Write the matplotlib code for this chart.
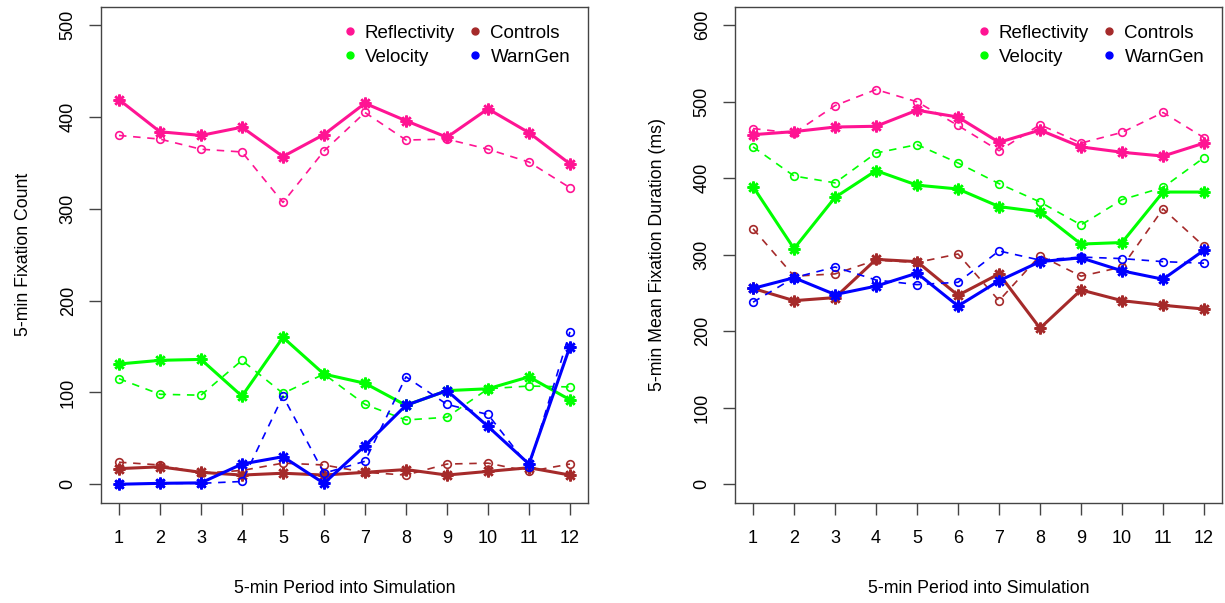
import matplotlib
matplotlib.use("Agg")
import matplotlib.pyplot as plt
import numpy as np

plt.rcParams['font.family'] = ['Liberation Sans', 'DejaVu Sans']

periods = list(range(1, 13))
series_names = ["Reflectivity", "Velocity", "Controls", "WarnGen"]
colors = {"Reflectivity": "#FF1493", "Velocity": "#00FF00",
          "Controls": "#A52A2A", "WarnGen": "#0000FF"}

# Left panel: 5-min fixation count (solid = series A, dashed = series B)
count_solid = {
    "Reflectivity": [419, 384, 380, 389, 357, 381, 415, 396, 378, 409, 383, 349],
    "Velocity":     [131, 135, 136, 96, 160, 120, 110, 86, 102, 104, 117, 92],
    "Controls":     [17, 19, 13, 10, 12, 10, 13, 16, 10, 14, 18, 10],
    "WarnGen":      [0, 1, 1.5, 22, 30, 1, 42, 86, 102, 63, 22, 150],
}
count_dashed = {
    "Reflectivity": [380, 376, 365, 362, 307, 363, 405, 375, 376, 365, 351, 323],
    "Velocity":     [115, 98, 97, 135, 99, 120, 87, 70, 73, 104, 107, 106],
    "Controls":     [24, 21, 12, 15, 23, 21, 13, 10, 22, 23, 14, 22],
    "WarnGen":      [0, 1, 1, 3, 96, 12, 25, 117, 87, 76, 19, 166],
}

# Right panel: 5-min mean fixation duration (ms)
dur_solid = {
    "Reflectivity": [457, 461, 467, 468, 489, 480, 447, 463, 441, 434, 429, 446],
    "Velocity":     [389, 308, 375, 410, 391, 386, 363, 356, 314, 316, 382, 382],
    "Controls":     [256, 240, 244, 294, 291, 247, 275, 204, 254, 240, 234, 229],
    "WarnGen":      [256, 270, 248, 259, 276, 233, 266, 291, 296, 279, 268, 306],
}
dur_dashed = {
    "Reflectivity": [465, 459, 495, 516, 500, 469, 436, 470, 446, 460, 486, 453],
    "Velocity":     [441, 403, 394, 433, 444, 420, 393, 369, 339, 372, 388, 427],
    "Controls":     [334, 272, 275, 293, 290, 301, 240, 299, 272, 284, 360, 311],
    "WarnGen":      [238, 270, 284, 267, 261, 264, 305, 293, 297, 295, 291, 289],
}

left_yticks = [0, 100, 200, 300, 400, 500]
right_yticks = [0, 100, 200, 300, 400, 500, 600]
xlabel = "5-min Period into Simulation"
left_ylabel = "5-min Fixation Count"
right_ylabel = "5-min Mean Fixation Duration (ms)"

fig = plt.figure(figsize=(12.25, 6.03), dpi=100)
ax1 = fig.add_axes([0.0824, 0.1665, 0.3976, 0.8220])
ax2 = fig.add_axes([0.6000, 0.1665, 0.3976, 0.8220])

star = (8, 2, 0)

def draw(ax, solid, dashed, yticks, ylabel):
    for name in series_names:
        c = colors[name]
        ax.plot(periods, dashed[name], color=c, lw=1.2, ls=(0, (4.5, 4)),
                marker='o', ms=5.5, mfc='none', mec=c, mew=1.2)
        ax.plot(periods, solid[name], color=c, lw=2.2, ls='-',
                marker=star, ms=8.5, mec=c, mew=1.8)
    ymax = yticks[-1]
    ax.set_ylim(-0.04 * ymax, 1.04 * ymax)
    ax.set_xlim(1 - 0.04 * 11, 12 + 0.04 * 11)
    ax.set_xticks(periods)
    ax.set_yticks(yticks)
    ax.set_yticklabels([str(t) for t in yticks], rotation=90, va='center')
    ax.tick_params(axis='both', direction='out', length=8.5, width=1.0,
                   color='#444444', labelsize=13)
    ax.tick_params(axis='x', pad=11)
    ax.tick_params(axis='y', pad=9)
    for s in ax.spines.values():
        s.set_color('#444444')
        s.set_linewidth(1.0)
    ax.set_xlabel(xlabel, fontsize=12.8, labelpad=24)
    ax.set_ylabel(ylabel, fontsize=12.8, labelpad=20)
    handles = [plt.Line2D([], [], ls='none', marker='o', ms=5, color=colors[n])
               for n in series_names]
    ax.legend(handles, series_names, ncol=2, loc='upper right', frameon=False,
              fontsize=13.5, handletextpad=0.3, columnspacing=0.6,
              handlelength=1.0, labelspacing=0.35, borderaxespad=0.55)

draw(ax1, count_solid, count_dashed, left_yticks, left_ylabel)
draw(ax2, dur_solid, dur_dashed, right_yticks, right_ylabel)

fig.savefig("out.png", dpi=100)
